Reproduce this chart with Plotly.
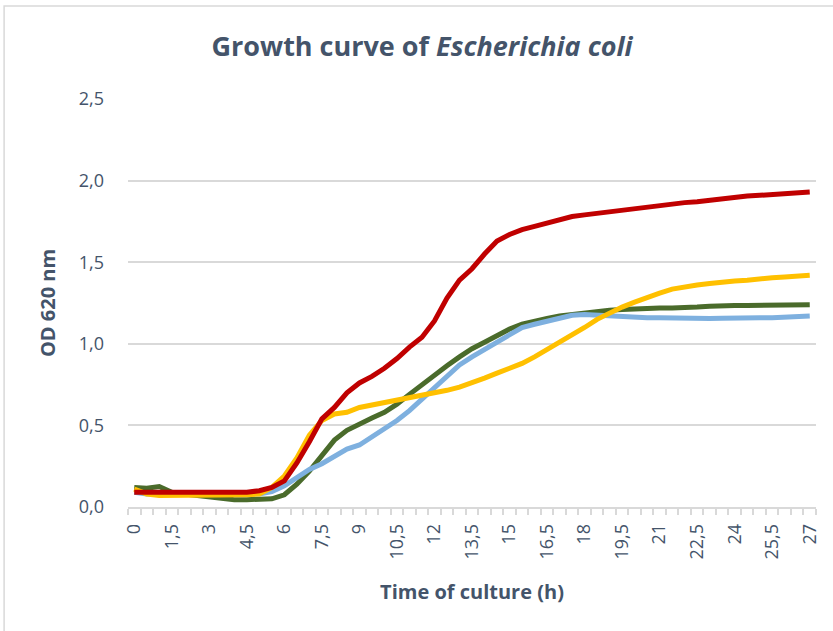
import plotly.graph_objects as go

# ---- data ----
time_h = [0, 0.5, 1, 1.5, 2, 2.5, 3, 3.5, 4, 4.5, 5, 5.5, 6, 6.5, 7, 7.5, 8, 8.5, 9, 9.5,
          10, 10.5, 11, 11.5, 12, 12.5, 13, 13.5, 14, 14.5, 15, 15.5, 16, 16.5, 17, 17.5,
          18, 18.5, 19, 19.5, 20, 20.5, 21, 21.5, 22, 22.5, 23, 23.5, 24, 24.5, 25, 25.5,
          26, 26.5, 27]

green = [0.12, 0.115, 0.125, 0.09, 0.08, 0.07, 0.06, 0.05, 0.045, 0.045, 0.045, 0.05,
         0.075, 0.14, 0.22, 0.32, 0.41, 0.47, 0.51, 0.545, 0.58, 0.63, 0.69, 0.75, 0.81,
         0.865, 0.92, 0.97, 1.01, 1.05, 1.09, 1.12, 1.14, 1.155, 1.17, 1.18, 1.19, 1.20,
         1.205, 1.21, 1.215, 1.22, 1.22, 1.22, 1.22, 1.225, 1.23, 1.235, 1.235, 1.235,
         1.235, 1.237, 1.24, 1.24, 1.24]

blue = [0.09, 0.08, 0.08, 0.08, 0.08, 0.075, 0.075, 0.075, 0.075, 0.075, 0.08, 0.095,
        0.13, 0.18, 0.23, 0.265, 0.31, 0.355, 0.38, 0.43, 0.48, 0.53, 0.59, 0.66, 0.735,
        0.81, 0.87, 0.92, 0.965, 1.005, 1.05, 1.10, 1.12, 1.14, 1.16, 1.175, 1.18, 1.175,
        1.17, 1.165, 1.16, 1.16, 1.16, 1.158, 1.155, 1.155, 1.155, 1.157, 1.16, 1.16,
        1.16, 1.16, 1.163, 1.165, 1.17]

yellow = [0.11, 0.08, 0.07, 0.07, 0.07, 0.07, 0.07, 0.07, 0.07, 0.075, 0.08, 0.12, 0.19,
          0.30, 0.44, 0.53, 0.57, 0.58, 0.61, 0.625, 0.64, 0.65, 0.665, 0.68, 0.695, 0.715,
          0.735, 0.76, 0.79, 0.82, 0.85, 0.88, 0.92, 0.965, 1.005, 1.05, 1.10, 1.15, 1.19,
          1.225, 1.255, 1.285, 1.31, 1.335, 1.35, 1.36, 1.37, 1.38, 1.385, 1.39, 1.40,
          1.405, 1.41, 1.415, 1.42]

red = [0.09, 0.09, 0.09, 0.09, 0.09, 0.09, 0.09, 0.09, 0.09, 0.09, 0.10, 0.12, 0.16, 0.27,
       0.40, 0.54, 0.61, 0.70, 0.76, 0.80, 0.85, 0.91, 0.98, 1.04, 1.14, 1.28, 1.39, 1.46,
       1.55, 1.63, 1.67, 1.70, 1.72, 1.74, 1.76, 1.78, 1.79, 1.80, 1.81, 1.82, 1.83, 1.84,
       1.845, 1.855, 1.865, 1.87, 1.88, 1.885, 1.90, 1.905, 1.91, 1.915, 1.92, 1.925, 1.93]

x_tick_vals = [0, 1.5, 3, 4.5, 6, 7.5, 9, 10.5, 12, 13.5, 15, 16.5, 18, 19.5, 21, 22.5, 24, 25.5, 27]
x_tick_text = ["0", "1,5", "3", "4,5", "6", "7,5", "9", "10,5", "12", "13,5", "15", "16,5",
               "18", "19,5", "21", "22,5", "24", "25,5", "27"]
y_tick_vals = [0, 0.5, 1.0, 1.5, 2.0, 2.5]
y_tick_text = ["0,0", "0,5", "1,0", "1,5", "2,0", "2,5"]

series = [("Green", green, "#4A6B2B"), ("Blue", blue, "#7EB0DF"),
          ("Yellow", yellow, "#FFC000"), ("Red", red, "#C00000")]

TEXT = "#44546A"
FONT = "Open Sans"
GRID = "#D9D9D9"

fig = go.Figure()
for name, vals, col in series:
    fig.add_trace(go.Scatter(x=time_h, y=vals, mode="lines", name=name,
                             line=dict(color=col, width=5, shape="linear"),
                             showlegend=False))

W, H = 833, 631
L, T = 128.3, 99
R = W - 815.8
B = H - 507
pw, ph = W - L - R, H - T - B

fig.update_layout(
    width=W, height=H,
    margin=dict(l=L, r=R, t=T, b=B, autoexpand=False),
    paper_bgcolor="white", plot_bgcolor="white",
    font=dict(family=FONT, color=TEXT, size=18),
    title=dict(text="<b>Growth curve of <i>Escherichia coli</i></b>",
               x=422 / W, xanchor="center", xref="container",
               y=1 - 47 / H, yanchor="middle", yref="container",
               font=dict(size=27, color=TEXT, family=FONT)),
    xaxis=dict(range=[-0.25, 27.25], tickvals=x_tick_vals, ticktext=x_tick_text,
               tickangle=-90, ticks="", showgrid=False, zeroline=False,
               showline=True, linecolor=GRID, linewidth=1.5,
               tickfont=dict(size=18, color=TEXT),
               ticklabelstandoff=8,
               minor=dict(tick0=-0.25, dtick=0.5, ticks="outside", ticklen=6,
                          tickcolor=GRID, tickwidth=1.5, showgrid=False),
               title=dict(text="<b>Time of culture (h)</b>", standoff=27,
                          font=dict(size=20, color=TEXT))),
    yaxis=dict(range=[0, 2.5], tickvals=y_tick_vals, ticktext=y_tick_text,
               showgrid=True, gridcolor=GRID, gridwidth=1.5, zeroline=False,
               showline=False, ticks="", ticklabelstandoff=23,
               tickfont=dict(size=18, color=TEXT),
               title=dict(text="<b>OD 620 nm</b>", standoff=17,
                          font=dict(size=20, color=TEXT))),
)

# chart-area border (left & top visible in reference)
fig.add_shape(type="rect", xref="paper", yref="paper",
              x0=(4.5 - L) / pw, x1=(W + 10 - L) / pw,
              y0=-(B + 10) / ph, y1=(H - B - 6) / ph,
              line=dict(color=GRID, width=1.5), fillcolor="rgba(0,0,0,0)", layer="below")

# remove the browser's default 8px body margin so the figure fills the window
fig.write_html("out.html", config={"displayModeBar": False},
               post_script="document.body.style.margin='0px';document.body.style.overflow='hidden';")
